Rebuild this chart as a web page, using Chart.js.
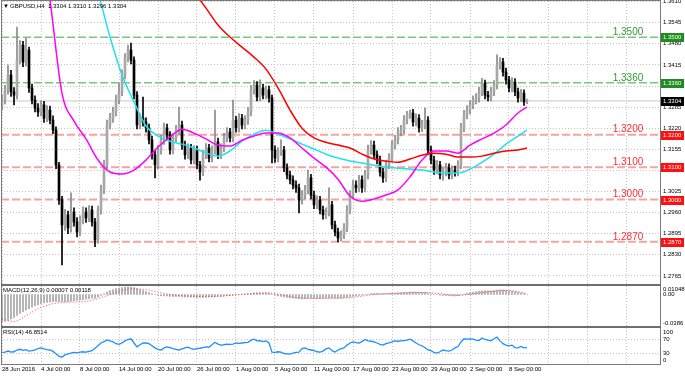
<!DOCTYPE html>
<html>
<head>
<meta charset="utf-8">
<script src="https://cdn.jsdelivr.net/npm/chart.js@4.4.0/dist/chart.umd.min.js"></script>
<style>
  html, body { margin: 0; padding: 0; background: #fff; }
  #wrap { position: relative; width: 685px; height: 377px; }
</style>
</head>
<body>
<div id="wrap"><canvas id="chart" width="685" height="377"></canvas></div>
<script>
// titles
const symbolTitle = 'GBPUSD,H4  1.3304 1.3310 1.3296 1.3304';
const macdTitle = 'MACD(12,26,9) 0.00007 0.00118';
const rsiTitle = 'RSI(14) 46.8514';

// time axis: bar index of each grid line and its label
const timeTickBars = [0, 13, 26, 39, 52, 65, 78, 91, 104, 117, 130, 143, 156, 169, 182, 195, 208];
const timeLabels = ['28 Jun 2016', '4 Jul 00:00', '8 Jul 00:00', '14 Jul 00:00', '20 Jul 00:00',
  '26 Jul 00:00', '1 Aug 00:00', '5 Aug 00:00', '11 Aug 00:00', '17 Aug 00:00',
  '23 Aug 00:00', '29 Aug 00:00', '2 Sep 00:00', '8 Sep 00:00'];

// price axis ticks
const priceTicks = [1.2765, 1.2830, 1.2895, 1.2960, 1.3025, 1.3090, 1.3155,
  1.3220, 1.3285, 1.3350, 1.3415, 1.3480, 1.3545, 1.3610];

// candles (H4)
const opens = [
  1.3290,1.3307,1.3338,1.3384,1.3332,1.3322,1.3430,1.3476,1.3424,1.3461,
  1.3344,1.3307,1.3282,1.3270,1.3292,1.3251,1.3276,1.3245,1.3215,1.3107,
  1.2999,1.2922,1.2953,1.2913,1.2962,1.2931,1.2900,1.2937,1.2962,1.2944,
  1.2968,1.2931,1.2876,1.2968,1.3030,1.3107,1.3230,1.3251,1.3270,1.3307,
  1.3332,1.3384,1.3436,1.3461,1.3430,1.3322,1.3230,1.3251,1.3239,1.3221,
  1.3184,1.3138,1.3107,1.3153,1.3184,1.3221,1.3199,1.3153,1.3190,1.3215,
  1.3230,1.3168,1.3138,1.3159,1.3122,1.3153,1.3107,1.3085,1.3138,1.3159,
  1.3128,1.3153,1.3178,1.3138,1.3159,1.3190,1.3208,1.3190,1.3245,1.3221,
  1.3251,1.3230,1.3245,1.3270,1.3338,1.3353,1.3316,1.3344,1.3322,1.3338,
  1.3313,1.3153,1.3128,1.3147,1.3153,1.3098,1.3076,1.3061,1.3045,1.3036,
  1.2999,1.3014,1.3030,1.3067,1.3014,1.2984,1.2999,1.2968,1.2953,1.2962,
  1.2984,1.2922,1.2900,1.2882,1.2891,1.2913,1.2968,1.3014,1.3045,1.3036,
  1.3061,1.3036,1.3076,1.3153,1.3168,1.3138,1.3122,1.3085,1.3067,1.3107,
  1.3128,1.3168,1.3184,1.3208,1.3215,1.3245,1.3261,1.3267,1.3239,1.3251,
  1.3221,1.3230,1.3245,1.3153,1.3122,1.3091,1.3107,1.3076,1.3085,1.3098,
  1.3076,1.3091,1.3085,1.3107,1.3221,1.3261,1.3276,1.3292,1.3307,1.3313,
  1.3332,1.3359,1.3322,1.3316,1.3332,1.3353,1.3415,1.3424,1.3393,1.3369,
  1.3344,1.3362,1.3332,1.3313,1.3328,1.3304];
const highs = [
  1.3322,1.3352,1.3415,1.3398,1.3345,1.3532,1.3490,1.3488,1.3498,1.3470,
  1.3356,1.3320,1.3296,1.3305,1.3303,1.3290,1.3288,1.3258,1.3224,1.3115,
  1.3010,1.2970,1.2965,1.3021,1.2975,1.2945,1.2950,1.2978,1.2975,1.2982,
  1.2980,1.2942,1.2980,1.3045,1.3122,1.3245,1.3266,1.3285,1.3322,1.3359,
  1.3400,1.3450,1.3476,1.3482,1.3440,1.3333,1.3265,1.3316,1.3252,1.3233,
  1.3196,1.3150,1.3167,1.3198,1.3236,1.3233,1.3210,1.3204,1.3229,1.3285,
  1.3242,1.3180,1.3172,1.3170,1.3166,1.3165,1.3118,1.3152,1.3173,1.3170,
  1.3166,1.3276,1.3190,1.3172,1.3204,1.3222,1.3220,1.3307,1.3257,1.3265,
  1.3263,1.3259,1.3284,1.3352,1.3367,1.3364,1.3369,1.3356,1.3350,1.3350,
  1.3322,1.3166,1.3160,1.3184,1.3164,1.3110,1.3088,1.3073,1.3058,1.3048,
  1.3028,1.3044,1.3091,1.3078,1.3026,1.3012,1.3010,1.2980,1.2975,1.3036,
  1.2995,1.2934,1.2912,1.2904,1.2926,1.2982,1.3028,1.3060,1.3058,1.3075,
  1.3073,1.3090,1.3168,1.3182,1.3180,1.3150,1.3134,1.3097,1.3120,1.3142,
  1.3182,1.3198,1.3222,1.3229,1.3259,1.3272,1.3276,1.3278,1.3264,1.3262,
  1.3244,1.3282,1.3256,1.3165,1.3134,1.3120,1.3118,1.3098,1.3112,1.3110,
  1.3104,1.3103,1.3120,1.3235,1.3275,1.3290,1.3305,1.3320,1.3327,1.3346,
  1.3374,1.3368,1.3334,1.3346,1.3367,1.3446,1.3438,1.3435,1.3405,1.3380,
  1.3376,1.3373,1.3344,1.3340,1.3338,1.3310];
const lows = [
  1.3276,1.3295,1.3325,1.3318,1.3292,1.3310,1.3418,1.3410,1.3412,1.3330,
  1.3295,1.3270,1.3256,1.3258,1.3238,1.3240,1.3233,1.3203,1.3095,1.2985,
  1.2799,1.2905,1.2895,1.2900,1.2918,1.2885,1.2888,1.2925,1.2930,1.2932,
  1.2918,1.2855,1.2865,1.2955,1.3018,1.3095,1.3218,1.3238,1.3258,1.3295,
  1.3320,1.3372,1.3424,1.3418,1.3310,1.3218,1.3218,1.3226,1.3208,1.3172,
  1.3125,1.3067,1.3095,1.3140,1.3170,1.3186,1.3140,1.3141,1.3178,1.3202,
  1.3155,1.3125,1.3126,1.3110,1.3110,1.3095,1.3060,1.3074,1.3126,1.3116,
  1.3116,1.3140,1.3126,1.3126,1.3147,1.3178,1.3178,1.3178,1.3208,1.3208,
  1.3218,1.3218,1.3232,1.3258,1.3325,1.3304,1.3304,1.3310,1.3310,1.3300,
  1.3113,1.3115,1.3116,1.3136,1.3086,1.3064,1.3048,1.3033,1.3022,1.2959,
  1.2986,1.3002,1.3018,1.3002,1.2972,1.2972,1.2956,1.2940,1.2941,1.2950,
  1.2910,1.2888,1.2870,1.2872,1.2880,1.2901,1.2956,1.3002,1.3022,1.3024,
  1.3022,1.3024,1.3064,1.3140,1.3126,1.3110,1.3072,1.3053,1.3055,1.3095,
  1.3116,1.3156,1.3172,1.3196,1.3203,1.3233,1.3250,1.3226,1.3227,1.3208,
  1.3209,1.3218,1.3140,1.3110,1.3078,1.3079,1.3064,1.3060,1.3073,1.3064,
  1.3064,1.3072,1.3073,1.3095,1.3209,1.3249,1.3264,1.3280,1.3295,1.3300,
  1.3320,1.3310,1.3304,1.3304,1.3320,1.3341,1.3402,1.3380,1.3356,1.3332,
  1.3332,1.3320,1.3300,1.3302,1.3290,1.3296];
const closes = [
  1.3307,1.3338,1.3384,1.3332,1.3322,1.3430,1.3476,1.3424,1.3461,1.3344,
  1.3307,1.3282,1.3270,1.3292,1.3251,1.3276,1.3245,1.3215,1.3107,1.2999,
  1.2922,1.2953,1.2913,1.2962,1.2931,1.2900,1.2937,1.2962,1.2944,1.2968,
  1.2931,1.2876,1.2968,1.3030,1.3107,1.3230,1.3251,1.3270,1.3307,1.3332,
  1.3384,1.3436,1.3461,1.3430,1.3322,1.3230,1.3251,1.3239,1.3221,1.3184,
  1.3138,1.3107,1.3153,1.3184,1.3221,1.3199,1.3153,1.3190,1.3215,1.3230,
  1.3168,1.3138,1.3159,1.3122,1.3153,1.3107,1.3085,1.3138,1.3159,1.3128,
  1.3153,1.3178,1.3138,1.3159,1.3190,1.3208,1.3190,1.3245,1.3221,1.3251,
  1.3230,1.3245,1.3270,1.3338,1.3353,1.3316,1.3344,1.3322,1.3338,1.3313,
  1.3153,1.3128,1.3147,1.3153,1.3098,1.3076,1.3061,1.3045,1.3036,1.2999,
  1.3014,1.3030,1.3067,1.3014,1.2984,1.2999,1.2968,1.2953,1.2962,1.2984,
  1.2922,1.2900,1.2882,1.2891,1.2913,1.2968,1.3014,1.3045,1.3036,1.3061,
  1.3036,1.3076,1.3153,1.3168,1.3138,1.3122,1.3085,1.3067,1.3107,1.3128,
  1.3168,1.3184,1.3208,1.3215,1.3245,1.3261,1.3267,1.3239,1.3251,1.3221,
  1.3230,1.3245,1.3153,1.3122,1.3091,1.3107,1.3076,1.3085,1.3098,1.3076,
  1.3091,1.3085,1.3107,1.3221,1.3261,1.3276,1.3292,1.3307,1.3313,1.3332,
  1.3359,1.3322,1.3316,1.3332,1.3353,1.3415,1.3424,1.3393,1.3369,1.3344,
  1.3362,1.3332,1.3313,1.3328,1.3301,1.3304];

// moving averages, sampled every 4 bars (null = above the chart)
const maBars = [0,4,8,12,16,20,24,28,32,36,40,44,48,52,56,60,64,68,72,76,80,84,88,
  92,96,100,104,108,112,116,120,124,128,132,136,140,144,148,152,156,160,164,168,172,175];
const maMagenta = [null,null,null,1.3862,1.3615,1.3328,1.3242,1.3187,1.3122,1.3085,1.3079,
  1.3091,1.3122,1.3162,1.3193,1.3217,1.3205,1.3187,1.3168,1.3165,1.3183,1.3196,1.3205,
  1.3205,1.3190,1.3159,1.3128,1.3100,1.3063,1.3011,1.2995,1.3002,1.3014,1.3030,1.3070,
  1.3122,1.3150,1.3150,1.3143,1.3168,1.3187,1.3205,1.3230,1.3267,1.3285];
const maCyan = [null,null,null,null,null,null,null,1.3738,1.3637,1.3501,1.3384,1.3301,
  1.3227,1.3196,1.3180,1.3171,1.3159,1.3144,1.3134,1.3150,1.3180,1.3202,1.3214,1.3202,
  1.3187,1.3171,1.3156,1.3140,1.3128,1.3119,1.3113,1.3106,1.3100,1.3097,1.3094,1.3091,
  1.3085,1.3082,1.3082,1.3094,1.3115,1.3140,1.3171,1.3196,1.3214];
const maRed = [null,null,null,null,null,null,null,null,null,null,null,null,null,null,null,
  1.3692,1.3640,1.3590,1.3538,1.3501,1.3470,1.3439,1.3402,1.3344,1.3276,1.3220,1.3190,
  1.3177,1.3168,1.3159,1.3140,1.3125,1.3119,1.3115,1.3125,1.3137,1.3143,1.3140,1.3131,
  1.3131,1.3134,1.3143,1.3150,1.3153,1.3159];

// MACD main (histogram, every bar) and signal (every 4 bars)
const macdMain = [
  -0.0337,-0.0330,-0.0318,-0.0300,-0.0280,-0.0255,-0.0232,-0.0210,-0.0190,-0.0172,
  -0.0155,-0.0140,-0.0126,-0.0114,-0.0104,-0.0096,-0.0090,-0.0086,-0.0085,-0.0086,
  -0.0088,-0.0087,-0.0085,-0.0080,-0.0076,-0.0073,-0.0068,-0.0062,-0.0056,-0.0050,
  -0.0046,-0.0045,-0.0030,-0.0012,0.0008,0.0030,0.0048,0.0062,0.0073,0.0080,
  0.0086,0.0091,0.0094,0.0093,0.0085,0.0072,0.0060,0.0048,0.0036,0.0024,
  0.0010,-0.0002,-0.0010,-0.0014,-0.0016,-0.0018,-0.0022,-0.0024,-0.0024,-0.0022,
  -0.0024,-0.0028,-0.0030,-0.0032,-0.0032,-0.0034,-0.0036,-0.0034,-0.0031,-0.0030,
  -0.0028,-0.0025,-0.0024,-0.0022,-0.0018,-0.0014,-0.0012,-0.0006,-0.0003,0.0001,
  0.0004,0.0007,0.0011,0.0016,0.0020,0.0021,0.0022,0.0022,0.0021,0.0019,
  0.0004,-0.0008,-0.0016,-0.0022,-0.0030,-0.0036,-0.0041,-0.0045,-0.0048,-0.0052,
  -0.0053,-0.0052,-0.0049,-0.0048,-0.0048,-0.0047,-0.0047,-0.0047,-0.0046,-0.0044,
  -0.0045,-0.0046,-0.0047,-0.0045,-0.0042,-0.0036,-0.0029,-0.0022,-0.0017,-0.0011,
  -0.0008,-0.0003,0.0005,0.0011,0.0014,0.0015,0.0013,0.0011,0.0011,0.0012,
  0.0015,0.0018,0.0021,0.0023,0.0026,0.0028,0.0030,0.0029,0.0029,0.0027,
  0.0026,0.0026,0.0018,0.0010,0.0002,-0.0003,-0.0008,-0.0011,-0.0013,-0.0015,
  -0.0016,-0.0016,-0.0014,-0.0004,0.0006,0.0015,0.0023,0.0030,0.0035,0.0040,
  0.0045,0.0046,0.0046,0.0047,0.0049,0.0055,0.0058,0.0057,0.0053,0.0047,
  0.0043,0.0036,0.0028,0.0021,0.0011,0.0001];
const macdSignal = [-0.0300,-0.0330,-0.0260,-0.0175,-0.0120,-0.0098,-0.0092,-0.0085,-0.0050,
  0.0000,0.0050,0.0072,0.0060,0.0030,0.0000,-0.0015,-0.0022,-0.0025,-0.0022,-0.0012,
  0.0000,0.0012,0.0020,0.0005,-0.0025,-0.0045,-0.0048,-0.0046,-0.0045,-0.0038,-0.0020,
  0.0000,0.0010,0.0015,0.0022,0.0026,0.0018,0.0002,-0.0010,0.0002,0.0025,0.0040,
  0.0050,0.0035,0.0012];
const macdTicks = [0.01048, 0, -0.0386];
const macdTickLabels = ['0.01048', '0.00', '-0.0386'];

// RSI(14), every bar
const rsiValues = [
  33,34,37,34,35,40,42,39,41,37, 38,40,44,46,43,41,40,36,29,22,
  20,26,29,31,33,32,34,35,34,36, 38,45,52,60,64,69,66,63,58,56,
  60,66,70,72,60,49,55,60,60,58, 52,46,42,40,46,49,47,44,42,40,
  43,46,48,44,42,44,45,47,49,48, 55,62,57,54,55,57,56,57,60,59,
  60,61,62,68,71,66,67,64,66,60, 34,33,35,34,30,29,28,31,33,34,
  44,46,42,40,38,35,34,37,43,46, 38,34,40,44,46,54,60,63,61,60,
  64,70,66,65,63,60,56,54,58,60, 63,66,65,66,67,68,71,66,60,55,
  52,47,40,38,33,31,35,40,38,37, 40,46,50,63,72,71,72,71,68,67,
  74,70,68,66,72,77,66,58,54,52, 54,47,46,50,46,46.85];
const rsiTicks = [100, 70, 30, 0];
const rsiGrid = [30, 70];

// horizontal levels
const greenLevels = [1.3500, 1.3360];
const redLevels = [1.3200, 1.3100, 1.3000, 1.2870];
const lastPrice = 1.3304;

const FONT = '"Liberation Sans", Arial, sans-serif';
const xMin = -1 / 3;
const xMax = 219 + 1 / 3;
const isBull = i => closes[i] >= opens[i];

const levelSet = (v, color, width) => ({
  type: 'line',
  data: [{ x: xMin, y: v }, { x: xMax, y: v }],
  yAxisID: 'yMain',
  borderColor: color,
  borderWidth: width,
  borderDash: [8, 3],
  pointRadius: 0,
  order: 20
});
const maSet = (values, color) => ({
  type: 'line',
  data: maBars.map((b, k) => ({ x: b, y: values[k] })),
  yAxisID: 'yMain',
  borderColor: color,
  borderWidth: 1.5,
  pointRadius: 0,
  cubicInterpolationMode: 'monotone',
  order: 1
});

// labels, tags and pane frames
const paneDecor = {
  id: 'paneDecor',
  afterDraw(chart) {
    const { ctx, chartArea: a, scales } = chart;
    const yM = scales.yMain, yD = scales.yMacd, yR = scales.yRsi;
    const w = a.right - a.left;
    ctx.save();

    // frame and separators
    ctx.strokeStyle = '#7a7a7a';
    ctx.lineWidth = 1;
    ctx.strokeRect(a.left + 0.5, a.top - 0.5, w, a.bottom - a.top + 1);
    ctx.fillStyle = '#6e6e6e';
    ctx.fillRect(a.left, yM.bottom, w + 1, 2);
    ctx.fillRect(a.left, yD.bottom - 1, w + 1, 2);

    // level captions
    ctx.font = '10px ' + FONT;
    ctx.textAlign = 'center';
    ctx.textBaseline = 'middle';
    greenLevels.forEach(v => {
      ctx.fillStyle = '#2f9a2f';
      ctx.fillText(v.toFixed(4), 628, yM.getPixelForValue(v) - 5);
    });
    redLevels.forEach(v => {
      ctx.fillStyle = '#ff3030';
      ctx.fillText(v.toFixed(4), 628, yM.getPixelForValue(v) - 5);
    });

    // price tags on the right axis
    ctx.font = '6px ' + FONT;
    ctx.textAlign = 'left';
    const tag = (v, bg) => {
      const y = Math.round(yM.getPixelForValue(v));
      ctx.fillStyle = bg;
      ctx.fillRect(661, y - 4, 23, 9);
      ctx.fillStyle = '#fff';
      ctx.fillText(v.toFixed(4), 663, y + 0.5);
    };
    greenLevels.forEach(v => tag(v, '#1e8c1e'));
    redLevels.forEach(v => tag(v, '#ff1010'));
    tag(lastPrice, '#000');

    // pane titles
    ctx.fillStyle = '#000';
    ctx.fillText('\u25BC', 3, 6);
    ctx.fillText(symbolTitle, 10, 6);
    ctx.fillText(macdTitle, 3, yD.top + 6);
    ctx.fillText(rsiTitle, 3, yR.top + 5);

    // sub-pane axis labels
    const clamp = (p, s) => Math.min(Math.max(p, s.top + 5), s.bottom - 4);
    macdTicks.forEach((v, k) => {
      ctx.fillText(macdTickLabels[k], 663, clamp(yD.getPixelForValue(v), yD));
    });
    rsiTicks.forEach(v => {
      ctx.fillText(String(v), 663, clamp(yR.getPixelForValue(v), yR));
    });
    ctx.restore();
  }
};

const yWidth = s => { s.width = 25; s.paddingTop = 0; s.paddingBottom = 0; };

new Chart(document.getElementById('chart'), {
  type: 'bar',
  data: {
    datasets: [
      ...greenLevels.map(v => levelSet(v, '#7cc67c', 1.5)),
      ...redLevels.map(v => levelSet(v, '#f6a3a3', 2)),
      {
        type: 'line',
        data: [{ x: xMin, y: lastPrice }, { x: xMax, y: lastPrice }],
        yAxisID: 'yMain',
        borderColor: '#c8c8c8',
        borderWidth: 1,
        pointRadius: 0,
        order: 21
      },
      {
        label: 'wicks',
        data: highs.map((h, i) => ({ x: i, y: [lows[i], h] })),
        yAxisID: 'yMain',
        grouped: false,
        barThickness: 1,
        backgroundColor: c => isBull(c.dataIndex) ? '#8a8a8a' : '#000',
        order: 6
      },
      {
        label: 'bodies',
        data: opens.map((o, i) => ({ x: i, y: [o, closes[i]] })),
        yAxisID: 'yMain',
        grouped: false,
        barThickness: 2,
        minBarLength: 1,
        backgroundColor: c => isBull(c.dataIndex) ? '#a8a8a8' : '#000',
        order: 5
      },
      maSet(maRed, '#ff0000'),
      maSet(maMagenta, '#ff00ff'),
      maSet(maCyan, '#1ee3ee'),
      {
        label: 'macd',
        data: macdMain.map((v, i) => ({ x: i, y: v })),
        yAxisID: 'yMacd',
        grouped: false,
        barThickness: 1,
        backgroundColor: '#a6a6a6',
        order: 4
      },
      {
        type: 'line',
        data: maBars.map((b, k) => ({ x: b, y: macdSignal[k] })),
        yAxisID: 'yMacd',
        borderColor: '#ff3a3a',
        borderWidth: 1,
        borderDash: [1, 2],
        pointRadius: 0,
        cubicInterpolationMode: 'monotone',
        order: 2
      },
      {
        type: 'line',
        data: rsiValues.map((v, i) => ({ x: i, y: v })),
        yAxisID: 'yRsi',
        borderColor: '#1e90ff',
        borderWidth: 1.3,
        pointRadius: 0,
        order: 2
      }
    ]
  },
  options: {
    responsive: false,
    animation: false,
    devicePixelRatio: 1,
    layout: { padding: { top: 1, left: 1, right: 0, bottom: 0 }, autoPadding: false },
    plugins: { legend: { display: false }, tooltip: { enabled: false } },
    scales: {
      x: {
        type: 'linear',
        position: 'bottom',
        min: xMin,
        max: xMax,
        offset: false,
        grid: { offset: false, color: '#c4c4c4', lineWidth: 1, drawTicks: false },
        border: { display: false, dash: [1, 2] },
        ticks: {
          autoSkip: false,
          maxRotation: 0,
          align: 'start',
          padding: 2,
          color: '#000',
          font: { family: FONT, size: 6 },
          callback: (v, i) => timeLabels[i] || ''
        },
        afterBuildTicks: s => { s.ticks = timeTickBars.map(v => ({ value: v })); },
        afterFit: s => { s.height = 13; s.paddingLeft = 0; s.paddingRight = 0; }
      },
      yMain: {
        type: 'linear',
        position: 'right',
        stack: 'panes',
        stackWeight: 283,
        min: 1.2740,
        max: 1.3612,
        grid: { color: '#c4c4c4', lineWidth: 1, drawTicks: false },
        border: { display: false, dash: [1, 2] },
        ticks: {
          autoSkip: false,
          padding: 3,
          color: '#000',
          font: { family: FONT, size: 6 },
          callback: v => v.toFixed(4)
        },
        afterBuildTicks: s => { s.ticks = priceTicks.map(v => ({ value: v })); },
        afterFit: yWidth
      },
      yMacd: {
        type: 'linear',
        position: 'right',
        stack: 'panes',
        stackWeight: 43,
        min: -0.03983,
        max: 0.01293,
        grid: { display: false },
        border: { display: false },
        ticks: { display: false },
        afterFit: yWidth
      },
      yRsi: {
        type: 'linear',
        position: 'right',
        stack: 'panes',
        stackWeight: 37,
        min: 0,
        max: 105.7,
        grid: { color: '#c4c4c4', lineWidth: 1, drawTicks: false },
        border: { display: false, dash: [1, 2] },
        ticks: { display: false },
        afterBuildTicks: s => { s.ticks = rsiGrid.map(v => ({ value: v })); },
        afterFit: yWidth
      }
    }
  },
  plugins: [paneDecor]
});
</script>
</body>
</html>
